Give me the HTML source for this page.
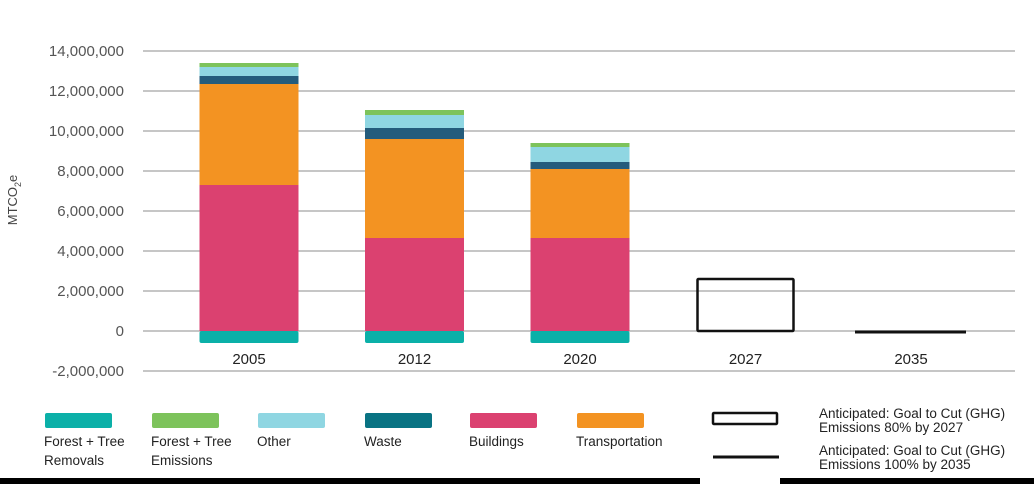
<!DOCTYPE html>
<html><head><meta charset="utf-8"><style>
body{margin:0;background:#fff;width:1034px;height:484px;overflow:hidden;font-family:"Liberation Sans",sans-serif}
svg text{font-family:"Liberation Sans",sans-serif}
</style></head><body>
<svg id="chart" width="1034" height="484" viewBox="0 0 1034 484" xmlns="http://www.w3.org/2000/svg"></svg>
<script>
const categories = ["2005","2012","2020","2027","2035"];
const removals = [-0.6, -0.6, -0.6];
const buildings = [7.3, 4.65, 4.65];
const transportation = [5.05, 4.95, 3.45];
const waste = [0.4, 0.55, 0.35];
const other = [0.45, 0.65, 0.75];
const forestEmissions = [0.2, 0.25, 0.2];
const goals = [2.6, 0];
const yTicks = [-2, 0, 2, 4, 6, 8, 10, 12, 14];
const yTickLabels = ["-2,000,000","0","2,000,000","4,000,000","6,000,000","8,000,000","10,000,000","12,000,000","14,000,000"];

const NS = "http://www.w3.org/2000/svg";
const svg = document.getElementById("chart");
function y(v){ return 331 - v * 20; }
function xc(i){ return 249 + i * 165.5; }
const BW = 99;
function mk(tag, attrs){ const e=document.createElementNS(NS,tag); for(const k in attrs) e.setAttribute(k,attrs[k]); svg.appendChild(e); return e; }

yTicks.forEach((t,i)=>{
  const g = mk("line",{x1:143,x2:1015,y1:y(t),y2:y(t),stroke:"#b4b4b4","stroke-width":1.5});
  
  
  const l = mk("text",{x:124,y:y(t)+5,"text-anchor":"end","font-size":15,fill:"#555"});
  l.textContent = yTickLabels[i];
  
  
});
const yt = mk("text",{transform:"translate(17,200) rotate(-90)","text-anchor":"middle","font-size":13,fill:"#444"});
yt.innerHTML = 'MTCO<tspan font-size="9" dy="4">2</tspan><tspan dy="-4">e</tspan>';



const series = [
  [buildings,"#db4170","bar-buildings"],
  [transportation,"#f39322","bar-transportation"],
  [waste,"#245c7c","bar-waste"],
  [other,"#8fd6e2","bar-other"],
  [forestEmissions,"#7dc35b","bar-forest-emissions"]
];
categories.slice(0,3).forEach((c,i)=>{
  const x0 = xc(i) - BW/2;
  const r = mk("rect",{x:x0,y:y(0),width:BW,height:y(removals[i])-y(0),fill:"#0bb0a8",rx:2});
  
  
  let base = 0;
  series.forEach(([arr,col,name])=>{
    const v = arr[i];
    const rr = mk("rect",{x:x0,y:y(base+v),width:BW,height:y(base)-y(base+v),fill:col});
    
    
    base += v;
  });
});
// goal 2027 box
{
  const x0 = xc(3) - 48;
  const b = mk("rect",{x:x0,y:y(goals[0]),width:96,height:y(0)-y(goals[0]),fill:"none",stroke:"#111","stroke-width":2.5,rx:1});
  
  
  const l = mk("line",{x1:xc(4)-56,x2:xc(4)+55,y1:y(goals[1])+1,y2:y(goals[1])+1,stroke:"#111","stroke-width":3});
  
  
}
categories.forEach((c,i)=>{
  const t = mk("text",{x:xc(i),y:364,"text-anchor":"middle","font-size":15,fill:"#222"});
  t.textContent = c;
  
  
});

// legend
const legend = [
  ["#0bb0a8",["Forest + Tree","Removals"],45,"legend-forest-removals"],
  ["#7dc35b",["Forest + Tree","Emissions"],152,"legend-forest-emissions"],
  ["#8fd6e2",["Other"],258,"legend-other"],
  ["#097383",["Waste"],365,"legend-waste"],
  ["#db4170",["Buildings"],470,"legend-buildings"],
  ["#f39322",["Transportation"],577,"legend-transportation"]
];
legend.forEach(([col,lines,x,name])=>{
  const r = mk("rect",{x:x,y:413,width:67,height:15,fill:col,rx:2});
  
  
  lines.forEach((s,k)=>{
    const t = mk("text",{x:x-1,y:446+k*19,"font-size":13.5,fill:"#222"});
    t.textContent = s;
    
    
  });
});
{
  const b = mk("rect",{x:713,y:413,width:64,height:11,fill:"none",stroke:"#111","stroke-width":2.5,rx:1});
  
  
  const l = mk("line",{x1:713,x2:779,y1:457,y2:457,stroke:"#111","stroke-width":3});
  
  
  [["Anticipated: Goal to Cut (GHG)",418],["Emissions 80% by 2027",432],["Anticipated: Goal to Cut (GHG)",455],["Emissions 100% by 2035",469]].forEach(([s,yy])=>{
    const t = mk("text",{x:819,y:yy,"font-size":13.5,fill:"#222"});
    t.textContent = s;
    
    
  });
}
const b1 = mk("rect",{x:0,y:478,width:700,height:6,fill:"#000"});


const b2 = mk("rect",{x:780,y:478,width:254,height:6,fill:"#000"});


</script>
</body></html>
